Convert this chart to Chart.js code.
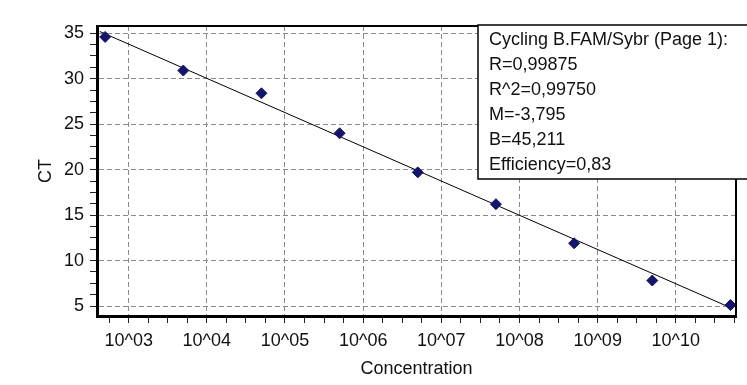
<!DOCTYPE html>
<html>
<head>
<meta charset="utf-8">
<script src="https://cdn.jsdelivr.net/npm/chart.js@4/dist/chart.umd.min.js"></script>
<style>
  html, body { margin: 0; padding: 0; background: #fff; }
  #contenedor { width: 747px; height: 385px; }
</style>
</head>
<body>
<div id="contenedor"><canvas id="curvaEstandar"></canvas></div>
<script>
const ctxCurva = document.getElementById('curvaEstandar');

// datos
const concentraciones = [5e2, 5e3, 5e4, 5e5, 5e6, 5e7, 5e8, 5e9, 5e10];
const valoresCT = [34.6, 30.9, 28.4, 24.0, 19.7, 16.2, 11.9, 7.8, 5.1];

// recta de regresion (extremos leidos)
const rectaConc = [10 ** 2.63, 10 ** 10.73];
const rectaCT = [35.2, 4.7];

// ticks
const exponentesX = [3, 4, 5, 6, 7, 8, 9, 10];
const ticksY = [5, 10, 15, 20, 25, 30, 35];

const textoCuadro = [
    'Cycling B.FAM/Sybr (Page 1):',
    'R=0,99875',
    'R^2=0,99750',
    'M=-3,795',
    'B=45,211',
    'Efficiency=0,83'
];

const xMin = 10 ** 2.595, xMax = 10 ** 10.77;
const yMin = 3.9, yMax = 35.8;

function esDecada(v) {
    const e = Math.log10(v);
    return Math.abs(e - Math.round(e)) < 1e-6;
}

function esMayorY(v) {
    return ticksY.some(t => Math.abs(t - v) < 1e-6);
}

/* marco superior y derecho + cuadro de texto */
const marcoYCuadro = {
    id: 'marcoYCuadro',
    afterDatasetsDraw(chart) {
        const { ctx, chartArea } = chart;
        ctx.save();
        ctx.strokeStyle = '#000';
        ctx.lineWidth = 2;
        ctx.beginPath();
        ctx.moveTo(chartArea.left, chartArea.top);
        ctx.lineTo(chartArea.right, chartArea.top);
        ctx.lineTo(chartArea.right, chartArea.bottom);
        ctx.stroke();
        ctx.restore();
    },
    afterDraw(chart) {
        const ctx = chart.ctx;
        ctx.save();
        ctx.fillStyle = '#fff';
        ctx.fillRect(478, 25, 300, 154);
        ctx.strokeStyle = '#000';
        ctx.lineWidth = 1.5;
        ctx.strokeRect(478, 25, 300, 154);
        ctx.fillStyle = '#111';
        ctx.font = '18px "Liberation Sans", Arial, sans-serif';
        ctx.textBaseline = 'middle';
        textoCuadro.forEach((t, i) => ctx.fillText(t, 489, 40 + i * 25));
        ctx.restore();
    }
};

Chart.defaults.font.family = '"Liberation Sans", Arial, sans-serif';
Chart.defaults.font.size = 18;
Chart.defaults.color = '#111';

new Chart(ctxCurva, {
    type: 'scatter',
    data: {
        datasets: [{
            label: 'CT',
            data: concentraciones.map((c, i) => ({ x: c, y: valoresCT[i] })),
            pointStyle: 'rectRot',
            pointRadius: 5.5,
            backgroundColor: '#14146e',
            borderColor: '#14146e',
            borderWidth: 1,
            order: 1
        }, {
            label: 'Recta',
            type: 'line',
            data: rectaConc.map((c, i) => ({ x: c, y: rectaCT[i] })),
            borderColor: '#000',
            borderWidth: 1,
            pointRadius: 0,
            fill: false,
            order: 2
        }]
    },
    options: {
        responsive: true,
        maintainAspectRatio: false,
        animation: false,
        layout: { padding: { top: 26, right: 11, left: 0, bottom: 0 } },
        plugins: {
            legend: { display: false },
            tooltip: { enabled: false }
        },
        scales: {
            x: {
                type: 'logarithmic',
                min: xMin,
                max: xMax,
                bounds: 'data',
                afterBuildTicks: (escala) => {
                    const lista = [];
                    for (let e = exponentesX[0] - 1; e <= exponentesX[exponentesX.length - 1]; e++) {
                        [0, 0.25, 0.5, 0.75].forEach(q => {
                            const v = 10 ** (e + q);
                            if (v >= xMin && v <= xMax) lista.push({ value: v });
                        });
                    }
                    escala.ticks = lista;
                },
                afterFit: (escala) => { escala.height = 69; },
                ticks: {
                    autoSkip: false,
                    maxRotation: 0,
                    padding: 7,
                    callback: (v) => {
                        if (!esDecada(v)) return '';
                        const e = Math.round(Math.log10(v));
                        return exponentesX.includes(e) ? '10^' + String(e).padStart(2, '0') : '';
                    }
                },
                grid: {
                    color: (c) => esDecada(c.tick.value) ? '#8a8a8a' : 'rgba(0,0,0,0)',
                    tickColor: '#222',
                    tickLength: 7,
                    tickWidth: 1
                },
                border: { color: '#000', width: 3, dash: [5, 3] },
                title: {
                    display: true,
                    text: 'Concentration',
                    padding: { top: 0, bottom: 5 }
                }
            },
            y: {
                min: yMin,
                max: yMax,
                bounds: 'data',
                afterBuildTicks: (escala) => {
                    const lista = [];
                    ticksY.forEach(t => {
                        [-2.5, -1.25, 0, 1.25, 2.5].forEach(d => {
                            const v = t + d;
                            if (v >= yMin && v <= yMax && !lista.some(o => Math.abs(o.value - v) < 1e-6)) lista.push({ value: v });
                        });
                    });
                    lista.sort((a, b) => a.value - b.value);
                    escala.ticks = lista;
                },
                afterFit: (escala) => { escala.width = 97; },
                ticks: {
                    autoSkip: false,
                    padding: 6,
                    callback: (v) => esMayorY(v) ? String(Math.round(v)) : ''
                },
                grid: {
                    color: (c) => esMayorY(c.tick.value) ? '#8a8a8a' : 'rgba(0,0,0,0)',
                    tickColor: '#222',
                    tickLength: 7,
                    tickWidth: 1
                },
                border: { color: '#000', width: 3, dash: [5, 3] },
                title: {
                    display: true,
                    text: 'CT',
                    padding: { top: 35, bottom: 0 }
                }
            }
        }
    },
    plugins: [marcoYCuadro]
});
</script>
</body>
</html>
